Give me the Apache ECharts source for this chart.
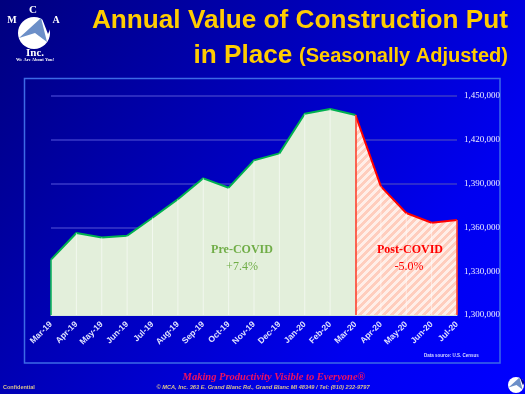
<!DOCTYPE html>
<html>
<head>
<meta charset="utf-8">
<title>Annual Value of Construction Put in Place</title>
<style>
  html, body { margin: 0; padding: 0; background: #0000c0; }
  #chart { width: 525px; height: 394px; }
</style>
<script src="https://cdn.jsdelivr.net/npm/echarts@6/dist/echarts.min.js"></script>
</head>
<body>
<div id="chart"></div>
<script>
const months = ['Mar-19', 'Apr-19', 'May-19', 'Jun-19', 'Jul-19', 'Aug-19', 'Sep-19', 'Oct-19', 'Nov-19',
  'Dec-19', 'Jan-20', 'Feb-20', 'Mar-20', 'Apr-20', 'May-20', 'Jun-20', 'Jul-20'];
const preCovid = [1337900, 1356200, 1353100, 1354300, 1366600, 1379300, 1393600, 1387200, 1405900,
  1410700, 1437900, 1441100, 1437000, null, null, null, null];
const postCovid = [null, null, null, null, null, null, null, null, null,
  null, null, null, 1437000, 1388100, 1369900, 1363200, 1365100];
const allValues = [1337900, 1356200, 1353100, 1354300, 1366600, 1379300, 1393600, 1387200, 1405900,
  1410700, 1437900, 1441100, 1437000, 1388100, 1369900, 1363200, 1365100];
const yTicks = [1300000, 1330000, 1360000, 1390000, 1420000, 1450000];

const serif = '"Liberation Serif", serif';
const sans = '"Liberation Sans", Arial, sans-serif';

// diagonal hatch for the post-covid area
function hatch() {
  const c = document.createElement('canvas');
  c.width = 8;
  c.height = 8;
  const g = c.getContext('2d');
  for (let x = 0; x < 8; x++) {
    for (let y = 0; y < 8; y++) {
      g.fillStyle = (x + y) % 8 < 4 ? '#ffcdbd' : '#ffeee8';
      g.fillRect(x, y, 1, 1);
    }
  }
  return c;
}

function logo(x, y, scale) {
  return {
    type: 'group', x: x, y: y, scaleX: scale, scaleY: scale, silent: true,
    children: [
      { type: 'circle', shape: { cx: 0, cy: 0, r: 16 }, style: { fill: '#ffffff' } },
      { type: 'polygon', shape: { points: [[7, -15], [-15, 5], [1, 0], [13, 9]] }, style: { fill: '#6c8fc8' } },
      { type: 'polygon', shape: { points: [[7, -17], [17, -6], [14, 1]] }, style: { fill: '#00008e' } }
    ]
  };
}

function txt(x, y, text, font, fill, align, extra) {
  return {
    type: 'text', x: x, y: y, silent: true, z: 20,
    style: Object.assign({ text: text, font: font, fill: fill, align: align || 'left', verticalAlign: 'middle' }, extra || {})
  };
}

// vertical edge of an area, from the axis floor up to the value
function edge(i) {
  return [{ xAxis: months[i], yAxis: yTicks[0] }, { xAxis: months[i], yAxis: allValues[i] }];
}

const titleShadow = { shadowColor: '#00004a', shadowOffsetX: 1.5, shadowOffsetY: 1.5, shadowBlur: 0 };

const chart = echarts.init(document.getElementById('chart'), null, { renderer: 'canvas' });
chart.setOption({
  animation: false,
  backgroundColor: {
    type: 'linear', x: 0, y: 0, x2: 1, y2: 1,
    colorStops: [{ offset: 0, color: '#00007e' }, { offset: 0.75, color: '#0000f0' }, { offset: 1, color: '#0000ff' }]
  },
  grid: { left: 51, right: 68, top: 96, bottom: 79 },
  xAxis: {
    type: 'category',
    data: months,
    boundaryGap: false,
    axisTick: { show: false },
    axisLine: { lineStyle: { color: '#d5e6d8', width: 1 } },
    axisLabel: { rotate: 45, interval: 0, margin: 8, color: '#dfe2ff', fontFamily: sans, fontWeight: 'bold', fontSize: 8.5 }
  },
  yAxis: {
    type: 'value',
    position: 'right',
    min: 1300000,
    max: 1450000,
    axisLine: { show: false },
    axisTick: { show: false, customValues: yTicks },
    axisLabel: { customValues: yTicks, margin: 7, color: '#f0f0ff', fontFamily: serif, fontSize: 9 },
    splitLine: { lineStyle: { color: '#3a3ac8', width: 1.5 } }
  },
  series: [
    {
      name: 'Pre-COVID',
      type: 'line',
      data: preCovid,
      showSymbol: false,
      z: 3,
      lineStyle: { color: '#00b050', width: 2 },
      areaStyle: { color: '#e3efdb', opacity: 1 },
      markLine: {
        silent: true, symbol: 'none', label: { show: false }, z: 6,
        lineStyle: { type: 'solid', color: '#00b050', width: 1.5 },
        data: [edge(0)]
      }
    },
    {
      name: 'Post-COVID',
      type: 'line',
      data: postCovid,
      showSymbol: false,
      z: 3,
      lineStyle: { color: '#ff0000', width: 2 },
      areaStyle: { color: { image: hatch(), repeat: 'repeat' }, opacity: 1 },
      markLine: {
        silent: true, symbol: 'none', label: { show: false }, z: 6,
        lineStyle: { type: 'solid', color: '#ff3a20', width: 1.5 },
        data: [edge(12), edge(16)]
      }
    },
    {
      name: 'drop',
      type: 'bar',
      data: allValues,
      barWidth: 1,
      z: 4,
      itemStyle: { color: 'rgba(255,255,255,0.55)' }
    }
  ],
  graphic: [
    {
      type: 'rect', silent: true, z: -1,
      shape: { x: 24.5, y: 78.5, width: 475.5, height: 284.5 },
      style: { fill: 'transparent', stroke: '#3c6ae6', lineWidth: 1.5 }
    },
    txt(508, 21, 'Annual Value of Construction Put', 'bold 26.2px ' + sans, '#ffcc00', 'right', titleShadow),
    {
      type: 'text', silent: true, z: 20, x: 508, y: 56,
      style: Object.assign({
        text: '{a|in Place}  {b|(Seasonally Adjusted)}', align: 'right', verticalAlign: 'middle',
        rich: {
          a: { font: 'bold 26.2px ' + sans, fill: '#ffcc00', ...titleShadow },
          b: { font: 'bold 20px ' + sans, fill: '#ffcc00', ...titleShadow }
        }
      })
    },
    logo(34, 33, 1),
    txt(12, 20, 'M', 'bold 10px ' + serif, '#ffffff', 'center'),
    txt(33, 10, 'C', 'bold 11px ' + serif, '#ffffff', 'center'),
    txt(56, 20, 'A', 'bold 10px ' + serif, '#ffffff', 'center'),
    txt(35, 53, 'Inc.', 'bold 11px ' + serif, '#ffffff', 'center'),
    txt(35, 59.5, 'We Are About You!', 'bold 4.5px ' + serif, '#ffffff', 'center'),
    txt(242, 250, 'Pre-COVID', 'bold 12px ' + serif, '#70ad47', 'center'),
    txt(242, 267, '+7.4%', '12px ' + serif, '#70ad47', 'center'),
    txt(410, 250, 'Post-COVID', 'bold 12px ' + serif, '#ff0000', 'center'),
    txt(409, 267, '-5.0%', '12px ' + serif, '#ff0000', 'center'),
    txt(424, 356, 'Data source: U.S. Census', 'bold 4.5px ' + sans, '#d8dcff', 'left'),
    txt(3, 387.5, 'Confidential', 'bold 5.5px ' + sans, '#d8c090', 'left'),
    txt(274, 377, 'Making Productivity Visible to Everyone\u00ae', 'italic bold 10.5px ' + serif, '#f01060', 'center'),
    txt(263, 387.5, '\u00a9 MCA, Inc. 363 E. Grand Blanc Rd., Grand Blanc MI 48349 / Tel: (810) 232-9797', 'italic bold 5.7px ' + sans, '#d8c090', 'center'),
    logo(516, 385, 0.5)
  ]
});
</script>
</body>
</html>
